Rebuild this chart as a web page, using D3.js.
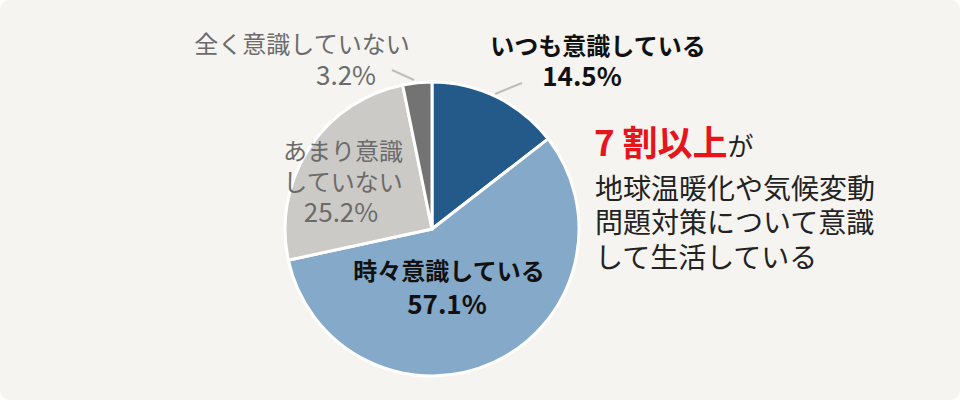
<!DOCTYPE html>
<html><head><meta charset="utf-8">
<script src="https://cdn.jsdelivr.net/npm/d3@7"></script>
<style>
html,body{margin:0;padding:0;background:#fff;}
svg{display:block;font-family:"Noto Sans CJK JP","Noto Sans",sans-serif;}
</style></head>
<body>
<svg id="chart" width="960" height="400"></svg>
<script>
const categories = ["いつも意識している","時々意識している","あまり意識していない","全く意識していない"];
const values = [14.5, 57.1, 25.2, 3.2];
const colors = ["#245a8a","#85a9c8","#cbcac7","#737373"];
const labelLines = [["いつも意識している","14.5%"],["時々意識している","57.1%"],["あまり意識","していない","25.2%"],["全く意識していない","3.2%"]];
const noteLines = ["地球温暖化や気候変動","問題対策について意識","して生活している"];

const svg = d3.select("#chart");
svg.append("rect").attr("x",0).attr("y",0).attr("width",960).attr("height",400).attr("rx",9).attr("fill","#f5f4f0");

const cx = 432, cy = 229, R = 147;
const pie = d3.pie().sort(null).value(d=>d);
const arcs = pie(values);
const arc = d3.arc().innerRadius(0).outerRadius(R);
const g = svg.append("g").attr("transform",`translate(${cx},${cy})`);
g.selectAll("path").data(arcs).enter().append("path")
  .attr("d",arc).attr("fill",(d,i)=>colors[i])
  .attr("stroke","#ffffff").attr("stroke-width",3).attr("stroke-linejoin","miter");

// leader lines
const lead = [
  {i:0, p:[[495,94],[522,83]]},
  {i:3, p:[[392,70],[414,80]]}
];
lead.forEach(l=>{
  svg.append("polyline").attr("points",l.p.map(q=>q.join(",")).join(" "))
    .attr("fill","none").attr("stroke","#bdbdbb").attr("stroke-width",2);
});

// labels
const labelSpec = [
  {x:[598,582], y:[47,77], fill:"#111", weight:"bold", size:[24,26]},
  {x:[449,447], y:[272,305], fill:"#111", weight:"bold", size:[24,26]},
  {x:[343,343,341], y:[152,183,213], fill:"#6b6b6b", weight:"normal", size:[24,24,26]},
  {x:[302,346], y:[45,76], fill:"#6b6b6b", weight:"normal", size:[24,26]}
];
labelSpec.forEach((s,i)=>{
  labelLines[i].forEach((t,j)=>{
    svg.append("text").attr("x",s.x[j]).attr("y",s.y[j]).attr("dy","0.35em")
      .attr("text-anchor","middle").attr("fill",s.fill).attr("font-weight",s.weight)
      .attr("font-size",s.size[j]).text(t);
  });
});

// note text
const head = svg.append("text").attr("x",594).attr("y",150).attr("dy","0.35em");
head.append("tspan").attr("fill","#e8141c").attr("font-weight","bold").attr("font-size",35).text("7 割以上");
head.append("tspan").attr("fill","#222").attr("font-size",26).text("が");
noteLines.forEach((t,j)=>{
  svg.append("text").attr("x",595).attr("y",189+j*34.5).attr("dy","0.35em")
    .attr("fill","#222").attr("font-size",28).text(t);
});
</script>
</body></html>
